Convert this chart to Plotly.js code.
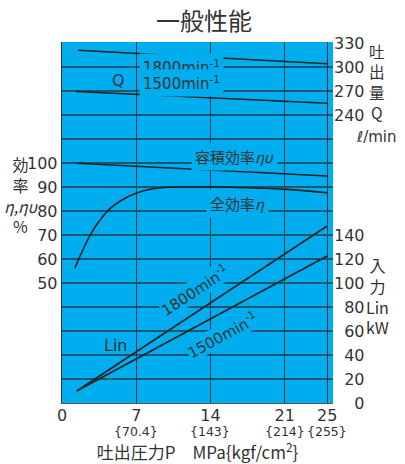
<!DOCTYPE html>
<html><head><meta charset="utf-8">
<script src="https://cdn.plot.ly/plotly-3.0.1.min.js"></script>
<style>html,body{margin:0;padding:0;background:#fff;}</style>
</head><body><div id="chart" style="width:405px;height:464px;"></div>
<script>
// ---- data ----
const pressureTicks = [0, 7, 14, 21, 25];
const pressureTickKgf = ['', '{70.4}', '{143}', '{214}', '{255}'];

const qP1800 = [1.51, 25];
const q1800 = [320.9, 304.1];
const qP1500 = [1.32, 25];
const q1500 = [269.3, 254.6];

const etaVP = [1.41, 25];
const etaV = [99.9, 94.6];

const etaP = [1.20, 1.89, 2.67, 3.46, 4.55, 5.66, 6.98, 8.49, 10.06, 12.26, 14.2, 17.5, 21.2, 25];
const eta  = [56.1, 63.0, 70.0, 75.5, 81.1, 84.6, 87.4, 89.2, 89.9, 90.0, 90.0, 89.7, 89.0, 87.6];

const linP = [1.39, 25];
const lin1800 = [10, 147.5];
const lin1500 = [10, 122.5];

const effTicks = [50, 60, 70, 80, 90, 100];
const qTicks = [240, 270, 300, 330];
const linTicks = [0, 20, 40, 60, 80, 100, 120, 140];

// ---- styling ----
const BLUE = '#00aeef';
const INK = '#222';
const TXT = '#333';
const NUM = 'DejaVu Sans, Liberation Sans, sans-serif';
const JP = 'Noto Sans CJK JP, sans-serif';
const NS = 16;

const L = 62, R = 333, T = 42, B = 403;
const W = 405, H = 464;
const px2x = px => (px - L) / (R - L);
const py2y = py => (B - py) / (B - T);

const line = {color: INK, width: 1.6};
const traces = [
  {x: qP1800, y: q1800, yaxis: 'y2', mode: 'lines', line},
  {x: qP1500, y: q1500, yaxis: 'y2', mode: 'lines', line},
  {x: etaVP, y: etaV, yaxis: 'y', mode: 'lines', line},
  {x: etaP, y: eta, yaxis: 'y', mode: 'lines', line: {color: INK, width: 1.6, shape: 'spline', smoothing: 1}},
  {x: linP, y: lin1800, yaxis: 'y3', mode: 'lines', line},
  {x: linP, y: lin1500, yaxis: 'y3', mode: 'lines', line}
];

const pad = v => (v < 10 ? '\u2007\u2007' : v < 100 ? '\u2007' : '') + v;

function paperAnn(text, px, py, size, family) {
  return {text, xref: 'paper', yref: 'paper', x: px2x(px), y: py2y(py),
    xanchor: 'center', yanchor: 'middle', align: 'center', showarrow: false,
    font: {family: family || JP, size: size || 16, color: TXT}};
}
function dataAnn(text, x, y, extra) {
  return Object.assign({text, xref: 'x', yref: 'y', x, y,
    xanchor: 'center', yanchor: 'middle', showarrow: false, bgcolor: BLUE, borderpad: 3,
    font: {family: NUM, size: 15, color: TXT}}, extra || {});
}

const annotations = [
  // left title
  paperAnn('効<br>率<br><i>η,ηυ</i><br>%', 21, 194.5, 16),
  // right title Q
  paperAnn('吐<br>出<br>量<br>Q', 376.5, 81.5, 15.6),
  paperAnn('<i>ℓ</i>/min', 376, 137, 15, NUM),
  // right title Lin
  paperAnn('入<br>力<br>Lin<br>kW', 377.5, 296, 16),
  // in-plot labels
  dataAnn('1800min<sup>-1</sup>', 11.31, 140),
  dataAnn('1500min<sup>-1</sup>', 11.31, 133.3),
  dataAnn('Q', 5.28, 134.2, {bgcolor: 'rgba(0,0,0,0)', font: {family: NUM, size: 16, color: TXT}}),
  dataAnn('容積効率<i>ηυ</i>', 16.3, 102.5, {font: {family: JP, size: 15, color: TXT}}),
  dataAnn('全効率<i>η</i>', 16.5, 83.3, {font: {family: JP, size: 15, color: TXT}}),
  dataAnn('Lin', 5.09, 23.75, {bgcolor: 'rgba(0,0,0,0)', font: {family: NUM, size: 16, color: TXT}}),
  dataAnn('1800min<sup>-1</sup>', 12.5, 47.2, {textangle: -33.5, borderpad: 0}),
  dataAnn('1500min<sup>-1</sup>', 15.1, 28.2, {textangle: -28.4, borderpad: 0})
];
// second line of the pressure tick labels (kgf/cm2 values)
pressureTicks.forEach((v, i) => {
  if (pressureTickKgf[i]) annotations.push({text: pressureTickKgf[i], xref: 'x', yref: 'paper',
    x: v, y: py2y(431), xanchor: 'center', yanchor: 'middle', showarrow: false,
    font: {family: NUM, size: 12.5, color: TXT}});
});

const layout = {
  width: W, height: H,
  margin: {l: L, r: W - R, t: T, b: H - B, pad: 0},
  paper_bgcolor: '#fff', plot_bgcolor: BLUE,
  showlegend: false,
  title: {text: '一般性能', font: {family: JP, size: 24, color: TXT},
    xref: 'container', yref: 'container', x: 204 / W, y: 1 - 22 / H, xanchor: 'center', yanchor: 'middle'},
  xaxis: {range: [0, 25.55], tickmode: 'array', tickvals: pressureTicks,
    showgrid: true, gridcolor: '#26343c', gridwidth: 1.3, zeroline: false,
    showline: true, linecolor: '#555', linewidth: 1.3, ticks: '', ticklabelstandoff: -3,
    tickfont: {family: NUM, size: NS, color: TXT},
    title: {text: '吐出圧力P\u3000MPa{kgf/cm<sup>2</sup>}', font: {family: JP, size: 17, color: TXT}, standoff: 27}},
  yaxis: {range: [0, 150.4], tickmode: 'array', tickvals: effTicks,
    showgrid: true, gridcolor: '#1d5670', gridwidth: 1.3, zeroline: false,
    minor: {tickmode: 'linear', tick0: 0, dtick: 10, showgrid: true, gridcolor: '#1d5670', gridwidth: 1.3, ticks: ''},
    showline: true, linecolor: '#333', linewidth: 1.3, ticks: '', ticklabelstandoff: 0,
    tickfont: {family: NUM, size: NS, color: TXT}},
  yaxis2: {range: [-120, 331.2], overlaying: 'y', side: 'right', anchor: 'x',
    tickmode: 'array', tickvals: qTicks, showgrid: false, zeroline: false, ticks: '',
    tickfont: {family: NUM, size: NS, color: TXT}},
  yaxis3: {range: [0, 300.8], overlaying: 'y', side: 'right', anchor: 'x',
    tickmode: 'array', tickvals: linTicks, ticktext: linTicks.map(pad),
    showgrid: false, zeroline: false, ticks: '',
    tickfont: {family: NUM, size: NS, color: TXT}},
  annotations
};

Plotly.newPlot('chart', traces, layout, {staticPlot: true, displayModeBar: false});
</script>
</body></html>
